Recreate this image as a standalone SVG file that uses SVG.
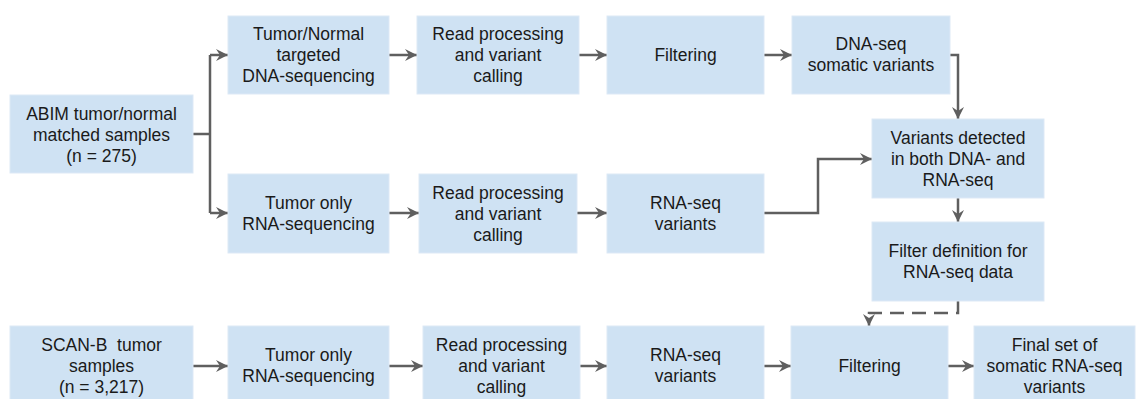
<svg xmlns="http://www.w3.org/2000/svg" width="1136" height="399" viewBox="0 0 1136 399">
<style>
.box{fill:#cfe2f3;stroke:#dde9f6;stroke-width:1}
.t{font-family:"Liberation Sans",Arial,sans-serif;font-size:17.5px;fill:#1a1a1a;text-anchor:middle}
.c{fill:none;stroke:#5f5f5f;stroke-width:2.5}
.d{stroke-dasharray:14 8}
</style>
<defs>
<marker id="ah" markerUnits="userSpaceOnUse" markerWidth="14" markerHeight="12" refX="12" refY="6" orient="auto">
<path d="M0,0 L12,6 L0,12 L4,6 z" fill="#5f5f5f"/>
</marker>
</defs>
<rect width="1136" height="399" fill="#fff"/>
<g id="connectors">
<path class="c" d="M193,134 H210"/>
<path class="c" d="M210,55 V213"/>
<path class="c" d="M210,55 H228" marker-end="url(#ah)"/>
<path class="c" d="M210,213 H228" marker-end="url(#ah)"/>
<path class="c" d="M389,55 H417" marker-end="url(#ah)"/>
<path class="c" d="M579,55 H607" marker-end="url(#ah)"/>
<path class="c" d="M764,55 H792" marker-end="url(#ah)"/>
<path class="c" d="M950,55 H958 V119" marker-end="url(#ah)"/>
<path class="c" d="M389,213 H419" marker-end="url(#ah)"/>
<path class="c" d="M577,213 H607" marker-end="url(#ah)"/>
<path class="c" d="M764,213 H818 V159 H872" marker-end="url(#ah)"/>
<path class="c" d="M958,198 V222" marker-end="url(#ah)"/>
<path class="c d" d="M958,301 V313 H869 V326" marker-end="url(#ah)"/>
<path class="c" d="M193,366 H228" marker-end="url(#ah)"/>
<path class="c" d="M389,366 H423" marker-end="url(#ah)"/>
<path class="c" d="M580,366 H607" marker-end="url(#ah)"/>
<path class="c" d="M764,366 H791" marker-end="url(#ah)"/>
<path class="c" d="M948,366 H974" marker-end="url(#ah)"/>
</g>
<g id="abim"><rect class="box" x="10" y="95" width="183" height="78"/>
<text class="t" x="101.5" y="120">ABIM tumor/normal</text><text class="t" x="101.5" y="141">matched samples</text><text class="t" x="101.5" y="162">(n = 275)</text></g>
<g id="tn-dna"><rect class="box" x="228" y="16" width="161" height="78"/>
<text class="t" x="308.5" y="40">Tumor/Normal</text><text class="t" x="308.5" y="61">targeted</text><text class="t" x="308.5" y="82">DNA-sequencing</text></g>
<g id="read1"><rect class="box" x="417" y="16" width="162" height="78"/>
<text class="t" x="498" y="40">Read processing</text><text class="t" x="498" y="61">and variant</text><text class="t" x="498" y="82">calling</text></g>
<g id="filter1"><rect class="box" x="607" y="16" width="157" height="78"/>
<text class="t" x="685.5" y="61">Filtering</text></g>
<g id="dna-somatic"><rect class="box" x="792" y="16" width="158" height="78"/>
<text class="t" x="871" y="50">DNA-seq</text><text class="t" x="871" y="71">somatic variants</text></g>
<g id="both"><rect class="box" x="872" y="119" width="172" height="79"/>
<text class="t" x="958" y="144">Variants detected</text><text class="t" x="958" y="165">in both DNA- and</text><text class="t" x="958" y="186">RNA-seq</text></g>
<g id="tumor-rna1"><rect class="box" x="228" y="174" width="161" height="79"/>
<text class="t" x="308.5" y="209">Tumor only</text><text class="t" x="308.5" y="230">RNA-sequencing</text></g>
<g id="read2"><rect class="box" x="419" y="174" width="158" height="79"/>
<text class="t" x="498" y="199">Read processing</text><text class="t" x="498" y="220">and variant</text><text class="t" x="498" y="241">calling</text></g>
<g id="rnavar1"><rect class="box" x="607" y="174" width="157" height="79"/>
<text class="t" x="685.5" y="209">RNA-seq</text><text class="t" x="685.5" y="230">variants</text></g>
<g id="filterdef"><rect class="box" x="872" y="222" width="172" height="79"/>
<text class="t" x="958" y="257">Filter definition for</text><text class="t" x="958" y="278">RNA-seq data</text></g>
<g id="scanb"><rect class="box" x="10" y="326" width="183" height="80"/>
<text class="t" x="101.5" y="351">SCAN-B&#160; tumor</text><text class="t" x="101.5" y="372">samples</text><text class="t" x="101.5" y="393">(n = 3,217)</text></g>
<g id="tumor-rna2"><rect class="box" x="228" y="326" width="161" height="80"/>
<text class="t" x="308.5" y="361">Tumor only</text><text class="t" x="308.5" y="382">RNA-sequencing</text></g>
<g id="read3"><rect class="box" x="423" y="326" width="157" height="80"/>
<text class="t" x="501.5" y="351">Read processing</text><text class="t" x="501.5" y="372">and variant</text><text class="t" x="501.5" y="393">calling</text></g>
<g id="rnavar2"><rect class="box" x="607" y="326" width="157" height="80"/>
<text class="t" x="685.5" y="361">RNA-seq</text><text class="t" x="685.5" y="382">variants</text></g>
<g id="filter2"><rect class="box" x="791" y="326" width="157" height="80"/>
<text class="t" x="869.5" y="372">Filtering</text></g>
<g id="final"><rect class="box" x="974" y="326" width="161" height="80"/>
<text class="t" x="1054.5" y="351">Final set of</text><text class="t" x="1054.5" y="372">somatic RNA-seq</text><text class="t" x="1054.5" y="393">variants</text></g>
</svg>
